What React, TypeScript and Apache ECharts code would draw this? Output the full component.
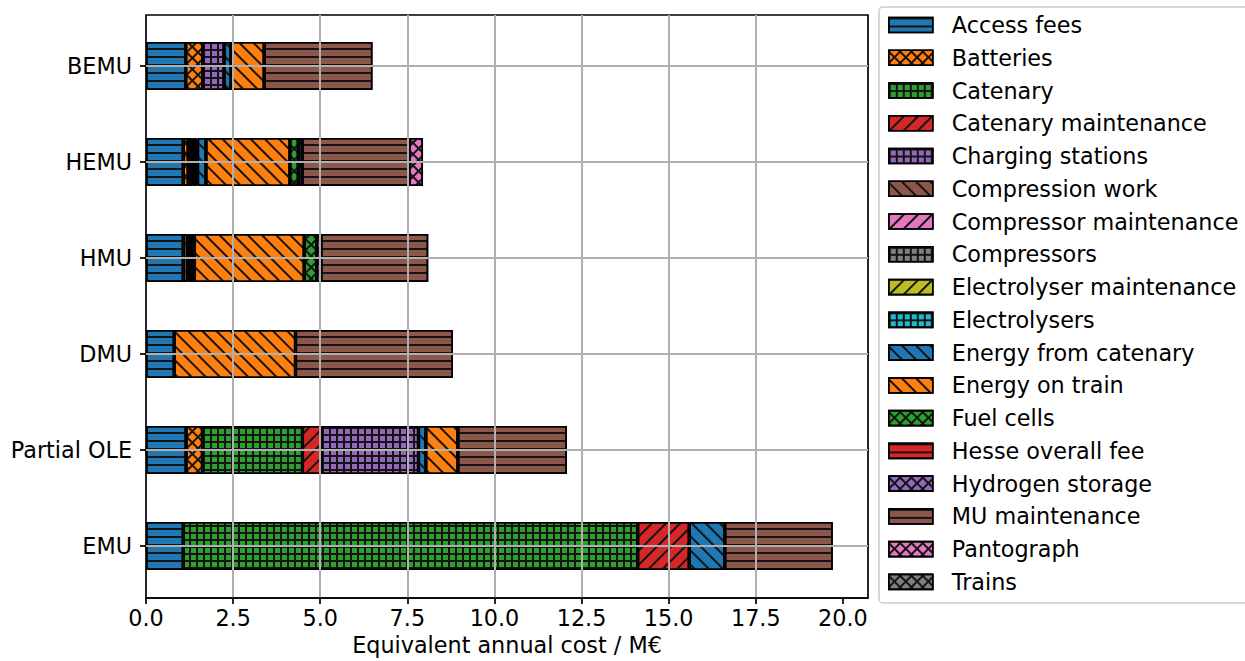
import React, { useEffect, useRef } from 'react';
import * as echarts from 'echarts';

// Categories (bottom to top)
const categories = ['EMU', 'Partial OLE', 'DMU', 'HMU', 'HEMU', 'BEMU'];

const costNames = [
  'Access fees', 'Batteries', 'Catenary', 'Catenary maintenance', 'Charging stations',
  'Compression work', 'Compressor maintenance', 'Compressors', 'Electrolyser maintenance',
  'Electrolysers', 'Energy from catenary', 'Energy on train', 'Fuel cells', 'Hesse overall fee',
  'Hydrogen storage', 'MU maintenance', 'Pantograph', 'Trains',
];

// values in M€ per category [EMU, Partial OLE, DMU, HMU, HEMU, BEMU]
const accessFees = [1.07, 1.15, 0.81, 1.07, 1.07, 1.14];
const batteries = [null, 0.47, null, null, 0.14, 0.49];
const catenary = [13.04, 2.87, null, null, null, null];
const catenaryMaintenance = [1.48, 0.54, null, null, null, null];
const chargingStations = [null, 2.79, null, null, null, 0.61];
const compressionWork = [null, null, null, 0.12, 0.1, null];
const compressorMaintenance = [null, null, null, 0.03, 0.03, null];
const compressors = [null, null, null, 0.1, 0.08, null];
const electrolyserMaintenance = [null, null, null, 0.02, 0.02, null];
const electrolysers = [null, null, null, 0.05, 0.04, null];
const energyFromCatenary = [1.02, 0.21, null, null, 0.24, 0.2];
const energyOnTrain = [null, 0.92, 3.48, 3.15, 2.41, 0.95];
const fuelCells = [null, null, null, 0.36, 0.24, null];
const hesseOverallFee = [null, null, null, null, null, null];
const hydrogenStorage = [null, null, null, 0.12, 0.11, null];
const muMaintenance = [3.1, 3.13, 4.52, 3.08, 3.07, 3.11];
const pantograph = [null, null, null, null, 0.4, null];
const trains = [null, null, null, null, null, null];

const seriesValues = [
  accessFees, batteries, catenary, catenaryMaintenance, chargingStations,
  compressionWork, compressorMaintenance, compressors, electrolyserMaintenance,
  electrolysers, energyFromCatenary, energyOnTrain, fuelCells, hesseOverallFee,
  hydrogenStorage, muMaintenance, pantograph, trains,
];

const xTickValues = [0, 2.5, 5, 7.5, 10, 12.5, 15, 17.5, 20];

const palette = [
  '#1f77b4', '#ff7f0e', '#2ca02c', '#d62728', '#9467bd', '#8c564b', '#e377c2', '#7f7f7f',
  '#bcbd22', '#17becf', '#1f77b4', '#ff7f0e', '#2ca02c', '#d62728', '#9467bd', '#8c564b',
  '#e377c2', '#7f7f7f',
];
const hatches = ['-', 'x', '+', '/', '+', '\\', '/', '+', '/', '+', '\\', '\\', 'x', '-', 'x', '-', 'x', 'x'];

const INK = '#141414';

function makeDecal(hatch: string): any {
  const base = { symbol: 'rect', symbolSize: 1, symbolKeepAspect: false, color: INK };
  switch (hatch) {
    case '-':
      return { ...base, dashArrayX: [[8, 0]], dashArrayY: [2, 6], rotation: 0 };
    case '/':
      return { ...base, dashArrayX: [[8, 0]], dashArrayY: [2, 8], rotation: -Math.PI / 4 };
    case '\\':
      return { ...base, dashArrayX: [[8, 0]], dashArrayY: [2, 8], rotation: Math.PI / 4 };
    case '+':
      return { ...base, dashArrayX: [[7, 0], [2, 5]], dashArrayY: [2, 0, 5, 0], rotation: 0 };
    case 'x':
    default:
      return { ...base, dashArrayX: [[8, 0], [2, 6]], dashArrayY: [2, 0, 6, 0], rotation: Math.PI / 4 };
  }
}

const FONT = 'DejaVu Sans';
const FS = 22.3;

export default function App() {
  const ref = useRef<HTMLDivElement>(null);
  useEffect(() => {
    if (!ref.current) return;
    const chart = echarts.init(ref.current, null, { renderer: 'svg' });

    const barSeries = costNames.map((name, i) => ({
      type: 'bar',
      name,
      stack: 'total',
      barWidth: '50%',
      xAxisIndex: 1,
      yAxisIndex: 1,
      data: seriesValues[i],
      itemStyle: {
        color: palette[i],
        borderColor: '#000',
        borderWidth: 1.6,
        decal: makeDecal(hatches[i]),
      },
      emphasis: { disabled: true },
      z: 2,
    }));

    const gridSeries = {
      type: 'custom',
      name: '__ygrid',
      silent: true,
      z: 10,
      xAxisIndex: 1,
      yAxisIndex: 1,
      data: categories.map((c) => [0, c]),
      encode: { x: 0, y: 1 },
      renderItem: (params: any, api: any) => {
        const y = api.coord([0, api.value(1)])[1];
        const cs = params.coordSys;
        return {
          type: 'line',
          shape: { x1: cs.x, y1: y, x2: cs.x + cs.width, y2: y },
          style: { stroke: '#b0b0b0', lineWidth: 2 },
        };
      },
    };

    const X_MAX = 20.72;

    chart.setOption({
      animation: false,
      textStyle: { fontFamily: FONT },
      grid: [
        {
          left: 146, top: 15, right: 377, bottom: 61,
          show: true, borderColor: '#000', borderWidth: 1.7, backgroundColor: 'transparent',
        },
        { left: 146, top: 18, right: 377, bottom: 67 },
      ],
      legend: {
        orient: 'vertical',
        left: 879,
        top: 7,
        data: costNames,
        icon: 'rect',
        itemWidth: 44,
        itemHeight: 15,
        itemGap: 10.76,
        padding: [7, 30, 10, 9],
        borderColor: '#cccccc',
        borderWidth: 1.5,
        borderRadius: 4,
        backgroundColor: '#ffffff',
        selectedMode: false,
        textStyle: { fontSize: FS, color: '#000', fontFamily: FONT, padding: [0, 0, 0, 14] },
        itemStyle: { borderColor: '#000', borderWidth: 1.6 },
      },
      xAxis: [
        {
          type: 'value',
          gridIndex: 0,
          min: 0,
          max: X_MAX,
          z: 5,
          name: 'Equivalent annual cost / M€',
          nameLocation: 'middle',
          nameGap: 36,
          nameTextStyle: { fontSize: FS, color: '#000', fontFamily: FONT },
          axisLine: { show: true, onZero: false, lineStyle: { color: '#000', width: 1.7 } },
          axisTick: { show: true, length: 6, customValues: xTickValues, lineStyle: { color: '#000', width: 1.7 } },
          axisLabel: {
            customValues: xTickValues,
            formatter: (v: number) => v.toFixed(1),
            fontSize: FS, color: '#000', fontFamily: FONT, margin: 9,
          },
          splitLine: { show: true, showMinLine: false, showMaxLine: false, lineStyle: { color: '#b0b0b0', width: 2 } },
        },
        {
          type: 'value',
          gridIndex: 1,
          min: 0,
          max: X_MAX,
          show: false,
          splitLine: { show: false },
        },
      ],
      yAxis: [
        {
          type: 'value',
          gridIndex: 0,
          min: 0,
          max: 1,
          show: false,
          splitLine: { show: false },
        },
        {
          type: 'category',
          gridIndex: 1,
          data: categories,
          axisLine: { show: false },
          axisTick: { show: true, alignWithLabel: true, length: 6, lineStyle: { color: '#000', width: 1.7 } },
          axisLabel: { fontSize: FS, color: '#000', fontFamily: FONT, margin: 14 },
          splitLine: { show: false },
        },
      ],
      series: [...barSeries, gridSeries],
    });

    return () => chart.dispose();
  }, []);

  return (
    <div
      ref={ref}
      style={{ position: 'fixed', left: 0, top: 0, width: 1245, height: 661, background: '#fff' }}
    />
  );
}
